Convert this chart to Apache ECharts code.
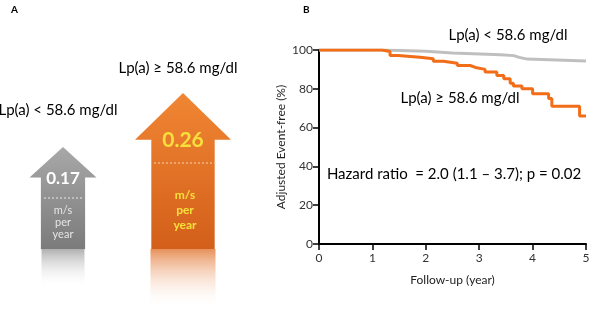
<!DOCTYPE html>
<html>
<head>
<meta charset="utf-8">
<script src="https://cdn.jsdelivr.net/npm/echarts@6/dist/echarts.min.js"></script>
<style>
  html, body { margin: 0; padding: 0; background: #fff; }
  #chart { width: 600px; height: 310px; }
</style>
</head>
<body>
<div id="chart"></div>
<script>
// panel A: progression rate (m/s per year)
const groups = ['Lp(a) < 58.6 mg/dl', 'Lp(a) \u2265 58.6 mg/dl']
const rates = [0.17, 0.26]
const reflect = [-0.065, -0.1]

// panel B: adjusted event-free survival, [year, %]
const lowLpa = [
  [0, 100], [1.2, 99.3], [2.0, 98.5], [2.5, 97.6], [3.4, 97.1],
  [3.65, 96.2], [3.75, 95.3], [3.9, 94.3], [5, 94.3],
]
const highLpa = [
  [0, 100], [1.18, 99.2], [1.33, 97.2], [1.48, 96.3], [1.89, 95.5],
  [2.14, 94.2], [2.33, 93.2], [2.59, 92.0], [2.83, 91.0], [2.93, 90.0],
  [3.11, 88.6], [3.33, 86.9], [3.46, 85.2], [3.58, 82.9], [3.64, 81.5],
  [3.8, 80.0], [4.0, 77.5], [4.3, 75.0], [4.36, 71.0], [4.88, 66.0], [5, 66.0],
]
const xTicks = [0, 1, 2, 3, 4, 5]
const yTicks = [0, 20, 40, 60, 80, 100]

const FONT = 'Lato'
const ORANGE = '#f26d17'
const GREY = '#bfbfbf'
const arrowPath = 'path://M50,0 L100,30 L83,30 L83,100 L17,100 L17,30 L0,30 Z'

const chart = echarts.init(document.getElementById('chart'))

function vgrad(top, bottom) {
  return new echarts.graphic.LinearGradient(0, 0, 0, 1, [
    { offset: 0, color: top },
    { offset: 1, color: bottom },
  ])
}

chart.setOption({
  animation: false,
  textStyle: { fontFamily: FONT },
  grid: [
    { left: 3, width: 240, top: 69, bottom: 1 },
    { left: 319, right: 14, top: 50, bottom: 66 },
  ],
  xAxis: [
    {
      gridIndex: 0,
      type: 'category',
      data: groups,
      show: false,
    },
    {
      gridIndex: 1,
      type: 'value',
      min: xTicks[0],
      max: xTicks[xTicks.length - 1],
      interval: 1,
      name: 'Follow-up (year)',
      nameLocation: 'middle',
      nameGap: 30,
      nameTextStyle: { fontSize: 12, color: '#222' },
      axisLine: { lineStyle: { color: '#000', width: 2 } },
      axisTick: { show: true, length: 6, lineStyle: { color: '#000', width: 1.5 } },
      axisLabel: { fontSize: 12, color: '#333', margin: 8 },
      splitLine: { show: false },
    },
  ],
  yAxis: [
    {
      gridIndex: 0,
      type: 'value',
      min: -0.1,
      max: 0.3,
      show: false,
    },
    {
      gridIndex: 1,
      type: 'value',
      min: yTicks[0],
      max: yTicks[yTicks.length - 1],
      interval: 20,
      name: 'Adjusted Event-free (%)',
      nameLocation: 'middle',
      nameGap: 32,
      nameTextStyle: { fontSize: 12, color: '#222' },
      axisLine: { show: true, lineStyle: { color: '#000', width: 2 } },
      axisTick: { show: true, length: 6, lineStyle: { color: '#000', width: 1.5 } },
      axisLabel: { fontSize: 12, color: '#333', margin: 6 },
      splitLine: { show: false },
    },
  ],
  series: [
    {
      type: 'pictorialBar',
      xAxisIndex: 0,
      yAxisIndex: 0,
      symbol: arrowPath,
      z: 3,
      label: {
        show: true,
        position: 'insideTop',
        fontWeight: 'bold',
        formatter: p => p.value.toFixed(2),
      },
      data: [
        {
          value: rates[0],
          symbolSize: [67, '100%'],
          itemStyle: { color: vgrad('#a8a8a8', '#7b7b7b') },
          label: { fontSize: 17, color: '#fff', offset: [0, 18] },
        },
        {
          value: rates[1],
          symbolSize: [96, '100%'],
          itemStyle: { color: vgrad('#f08633', '#d35f1a') },
          label: { fontSize: 21, color: '#f8e03c', offset: [0, 32] },
        },
      ],
    },
    {
      // mirrored reflection under each arrow; the symbol is flipped for
      // negative values, so offset 1 lands at the arrow base
      type: 'pictorialBar',
      xAxisIndex: 0,
      yAxisIndex: 0,
      symbol: 'rect',
      z: 2,
      data: [
        {
          value: reflect[0],
          symbolSize: [43, '100%'],
          itemStyle: { color: vgrad('rgba(255,255,255,0)', '#b0b0b0') },
        },
        {
          value: reflect[1],
          symbolSize: [65, '100%'],
          itemStyle: { color: vgrad('rgba(255,255,255,0)', '#e8915a') },
        },
      ],
    },
    {
      name: groups[0],
      type: 'line',
      xAxisIndex: 1,
      yAxisIndex: 1,
      step: 'end',
      showSymbol: false,
      z: 2,
      lineStyle: { color: GREY, width: 3 },
      data: lowLpa,
    },
    {
      name: groups[1],
      type: 'line',
      xAxisIndex: 1,
      yAxisIndex: 1,
      step: 'end',
      showSymbol: false,
      z: 3,
      lineStyle: { color: ORANGE, width: 3 },
      data: highLpa,
    },
  ],
  graphic: {
    elements: [
      { type: 'text', left: 11, top: 5, z: 100, style: { text: 'A', font: 'bold 10px ' + FONT, fill: '#000' } },
      { type: 'text', left: 303, top: 5, z: 100, style: { text: 'B', font: 'bold 10px ' + FONT, fill: '#000' } },
      // panel A captions
      { type: 'text', x: 178, y: 68, z: 100, style: { text: groups[1], font: '15px ' + FONT, fill: '#000', align: 'center', verticalAlign: 'middle' } },
      { type: 'text', x: 58, y: 110, z: 100, style: { text: groups[0], font: '15px ' + FONT, fill: '#000', align: 'center', verticalAlign: 'middle' } },
      // arrow units
      { type: 'line', z: 100, shape: { x1: 44, y1: 198, x2: 83, y2: 198 }, style: { stroke: '#e8e8e8', lineDash: [2, 2], lineWidth: 1 } },
      { type: 'text', x: 63, y: 222, z: 100, style: { text: 'm/s\nper\nyear', font: '11px ' + FONT, lineHeight: 12, fill: '#e6e6e6', align: 'center', verticalAlign: 'middle' } },
      { type: 'line', z: 100, shape: { x1: 154, y1: 163, x2: 217, y2: 163 }, style: { stroke: '#f5d3b0', lineDash: [2, 2], lineWidth: 1 } },
      { type: 'text', x: 185, y: 210, z: 100, style: { text: 'm/s\nper\nyear', font: 'bold 12px ' + FONT, lineHeight: 15, fill: '#f8e03c', align: 'center', verticalAlign: 'middle' } },
      // panel B annotations
      { type: 'text', x: 508, y: 35, z: 100, style: { text: groups[0], font: '15px ' + FONT, fill: '#000', align: 'center', verticalAlign: 'middle' } },
      { type: 'text', x: 460, y: 98, z: 100, style: { text: groups[1], font: '15px ' + FONT, fill: '#000', align: 'center', verticalAlign: 'middle' } },
      { type: 'text', x: 454, y: 174, z: 100, style: { text: 'Hazard ratio  = 2.0 (1.1 \u2013 3.7); p = 0.02', font: '15px ' + FONT, fill: '#000', align: 'center', verticalAlign: 'middle' } },
    ],
  },
})
</script>
</body>
</html>
